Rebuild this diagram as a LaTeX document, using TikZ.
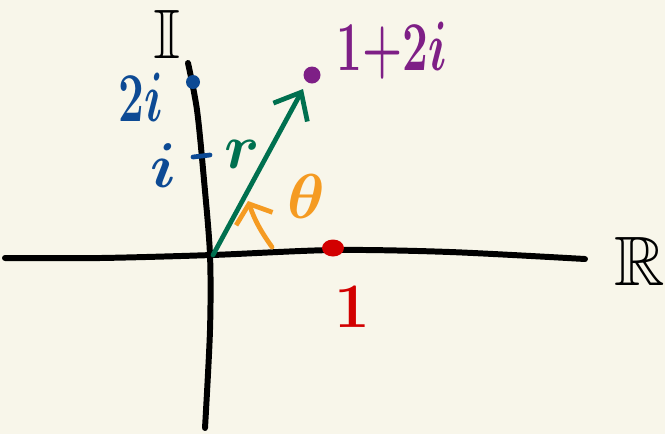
\documentclass[tikz,border=0pt]{standalone}
\usepackage{amsmath,amssymb}
\usepackage{graphicx}
\usetikzlibrary{arrows.meta, positioning, shapes.geometric}
\definecolor{paper}{HTML}{F8F6EA}
\definecolor{inkblue}{HTML}{0D4A94}
\definecolor{inkgreen}{HTML}{00704F}
\definecolor{inkpurple}{HTML}{7E1F86}
\definecolor{inkorange}{HTML}{F59B22}
\definecolor{inkred}{HTML}{D20000}
\newcommand{\axisname}[1]{\scalebox{1.6}{$\mathbb{#1}$}}

\begin{document}
\begin{tikzpicture}[x=0.02cm, y=-0.02cm,
        axis/.style={line width=3.4pt, line cap=round, line join=round, black},
        pen/.style={line width=2.7pt, line cap=round, line join=round},
        dot/.style={circle, inner sep=0pt, minimum size=0.32cm},
        lbl/.style={inner sep=0pt, font=\fontsize{24.88}{26}\selectfont\boldmath, scale=1.45, transform shape},
        tall/.style={lbl, xscale=1.05/1.45, yscale=1.6/1.45},
        axlbl/.style={inner sep=0pt, font=\fontsize{24.88}{26}\selectfont},
    ]
    \fill[paper] (0,0) rectangle (665,434);
    \useasboundingbox (0,0) rectangle (665,434);
    % axes
    \draw[axis] plot[smooth] coordinates {(5,258) (100,258) (212,255) (334,250) (450,252) (585,259)};
    \draw[axis] plot[smooth] coordinates {(188,63) (197,110) (204,180) (210,255) (210,330) (205,428)};
    \node[axlbl] (imag) at (167,34) {\axisname{I}};
    \node[axlbl] (real) at (640,261) {\axisname{R}};
    % points on the axes
    \coordinate (O) at (213,255);
    \node[dot, fill=inkblue, minimum size=0.28cm] (twoi) at (193,82) {};
    \node[tall, text=inkblue] (twoilbl) at (141,97) {$2i$};
    \coordinate (tickl) at (193,157);
    \coordinate (tickr) at (210,155);
    \draw[pen, inkblue] (tickl) -- (tickr);
    \node[lbl, text=inkblue] (ilbl) at (163,166) {$i$};
    \node[dot, ellipse, fill=inkred, minimum width=0.44cm, minimum height=0.34cm] (one) at (333,248) {};
    \node[lbl, text=inkred] (onelbl) at (352,307) {$1$};
    % the point 1+2i
    \node[dot, fill=inkpurple, minimum size=0.34cm] (z) at (312,75) {};
    \node[tall, text=inkpurple] (zlbl) at (392,51) {$1{+}2i$};
    \coordinate (ztip) at (303,89);
    \draw[pen, inkgreen, -{Straight Barb[length=13pt, width=22pt, line width=2.7pt]}] (O) -- (ztip);
    \node[lbl, text=inkgreen] (rlbl) at (242,154) {$r$};
    % angle
    \coordinate (arcstart) at (272,247);
    \coordinate (arcend) at (248,201);
    \draw[pen, inkorange, -{Straight Barb[length=9pt, width=22pt, line width=2.7pt]}] (arcstart) to[bend left=8] (arcend);
    \node[lbl, text=inkorange] (thetalbl) at (306,196) {$\theta$};
\end{tikzpicture}
\end{document}
